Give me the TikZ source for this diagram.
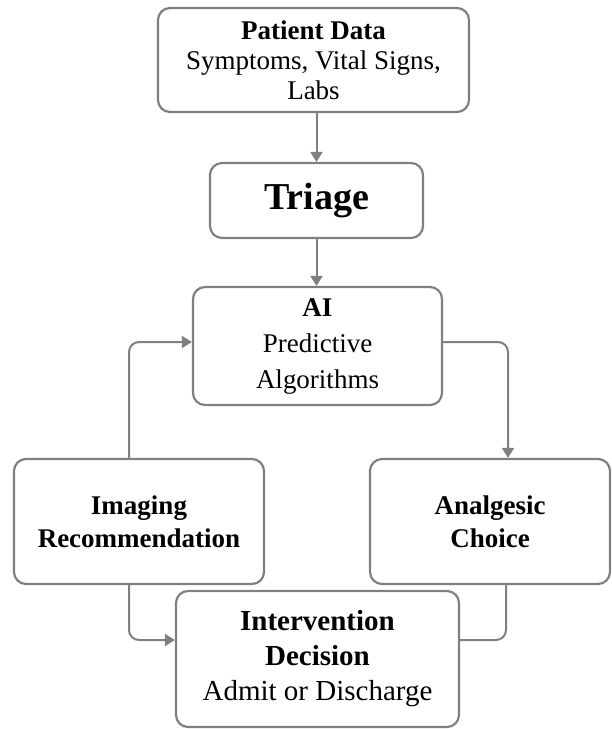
\documentclass[tikz,border=0pt]{standalone}
\usepackage{fontspec}
\setmainfont{Liberation Serif}
\usetikzlibrary{arrows.meta}
\definecolor{boxgray}{RGB}{128,128,128}

\begin{document}
\begin{tikzpicture}[x=1pt,y=-1pt,
        box/.style={draw=boxgray,line width=2.2pt,rounded corners=12pt,fill=white,
          align=center,inner sep=0pt},
        link/.style={draw=boxgray,line width=2pt,rounded corners=10pt,
          -{Triangle[length=10pt,width=12pt]}}]
        \useasboundingbox (0,0) rectangle (612,729);
        % boxes
        \node[box,minimum width=311pt,minimum height=104pt,
          font=\fontsize{27}{30}\selectfont] (pd) at (313.5,60)
          {\textbf{Patient Data}\\Symptoms, Vital Signs,\\Labs};
        \node[box,minimum width=213pt,minimum height=75pt,
          font=\fontsize{38}{40}\selectfont\bfseries] (tri) at (316.5,200.5) {Triage};
        \node[box,minimum width=249pt,minimum height=118pt,
          font=\fontsize{27}{36}\selectfont] (ai) at (317.5,346)
          {\textbf{AI}\\Predictive\\Algorithms};
        \node[box,minimum width=250pt,minimum height=125pt,
          font=\fontsize{27}{33}\selectfont\bfseries] (img) at (139,521.5)
          {Imaging\\Recommendation};
        \node[box,minimum width=240pt,minimum height=125pt,
          font=\fontsize{27}{33}\selectfont\bfseries] (ana) at (490,521.5)
          {Analgesic\\Choice};
        \node[box,minimum width=283pt,minimum height=136pt,
          font=\fontsize{29}{35}\selectfont] (int) at (317.5,659)
          {\textbf{Intervention}\\\textbf{Decision}\\Admit or Discharge};
        % connectors
        \draw[link] (tri.north |- pd.south) -- (tri.north);
        \draw[link] (tri.south) -- (tri.south |- ai.north);
        \draw[link] ([xshift=-10pt]img.north) |- ([yshift=4pt]ai.west);
        \draw[link] ([yshift=4pt]ai.east) -| ([xshift=18pt]ana.north);
        \draw[link] ([xshift=-10pt]img.south) |- ([yshift=19pt]int.west);
        \draw[link,-] ([xshift=16pt]ana.south) |- ([yshift=19pt]int.east);
      \end{tikzpicture}
\end{document}
